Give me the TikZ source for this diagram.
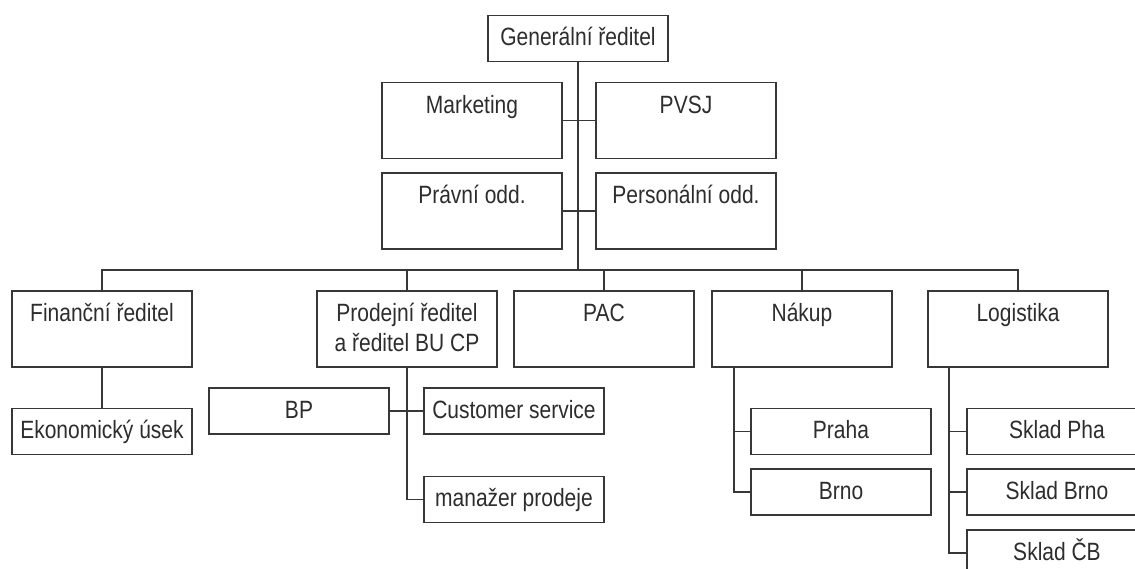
\documentclass[tikz,border=0pt]{standalone}
\usepackage{fontspec}
\setmainfont{Liberation Sans}[FakeStretch=0.84]
\definecolor{linec}{RGB}{55,55,55}
\definecolor{textc}{RGB}{45,45,45}
\newcommand\tallc[1]{\parbox[c][76pt][t]{180pt}{\centering\rule{0pt}{31pt}#1\par}}
\newcommand\shortc[1]{\parbox[c][46pt][t]{180pt}{\centering\rule{0pt}{30pt}#1\par}}
\tikzset{
  orgbox/.style={draw=linec, line width=1.2pt, inner sep=0pt, outer sep=0pt, text=textc,
    font=\fontsize{25pt}{29.5pt}\selectfont},
  conn/.style={draw=linec, line width=1.2pt}
}
\begin{document}
\begin{tikzpicture}[x=1pt,y=-1pt]
\clip (0,0) rectangle (1135,569);
\useasboundingbox (0,0) rectangle (1135,569);
% top
\node[orgbox] (gen) at (578,38.5) {\shortc{Generální ředitel}};
\node[orgbox] (mkt) at (472,120.5) {\tallc{Marketing}};
\node[orgbox] (pvsj) at (686,120.5) {\tallc{PVSJ}};
\node[orgbox] (prav) at (472,211) {\tallc{Právní odd.}};
\node[orgbox] (pers) at (686,211) {\tallc{Personální odd.}};
% second level
\node[orgbox] (fin) at (102,329) {\tallc{Finanční ředitel}};
\node[orgbox] (prod) at (407,329) {\tallc{Prodejní ředitel\\a ředitel BU CP}};
\node[orgbox] (pac) at (604,329) {\tallc{PAC}};
\node[orgbox] (nak) at (802,329) {\tallc{Nákup}};
\node[orgbox] (log) at (1018,329) {\tallc{Logistika}};
% third level
\node[orgbox] (eko) at (102,431.5) {\shortc{Ekonomický úsek}};
\node[orgbox] (bp) at (299,411) {\shortc{BP}};
\node[orgbox] (cs) at (514,411) {\shortc{Customer service}};
\node[orgbox] (man) at (514,499.5) {\shortc{manažer prodeje}};
\node[orgbox] (praha) at (841,431.5) {\shortc{Praha}};
\node[orgbox] (brno) at (841,492) {\shortc{Brno}};
\node[orgbox] (spha) at (1057,431.5) {\shortc{Sklad Pha}};
\node[orgbox] (sbrno) at (1057,492) {\shortc{Sklad Brno}};
\node[orgbox] (scb) at (1057,553) {\shortc{Sklad ČB}};
% connectors
\coordinate (bus) at (578,270);
\draw[conn] (gen.south) -- (bus);
\draw[conn] (mkt.east) -- (pvsj.west);
\draw[conn] (prav.east) -- (pers.west);
\draw[conn] (fin.north) -- (fin.north |- bus) -- (log.north |- bus) -- (log.north);
\draw[conn] (prod.north) -- (prod.north |- bus);
\draw[conn] (pac.north) -- (pac.north |- bus);
\draw[conn] (nak.north) -- (nak.north |- bus);
\draw[conn] (fin.south) -- (eko.north);
\draw[conn] (prod.south) |- (man.west);
\draw[conn] (bp.east) -- (cs.west);
\coordinate (nakv) at ([xshift=22pt]nak.south west);
\coordinate (logv) at ([xshift=21pt]log.south west);
\draw[conn] (nakv) |- (brno.west);
\draw[conn] (praha.west) -- (praha.west -| nakv);
\draw[conn] (logv) |- (scb.west);
\draw[conn] (spha.west) -- (spha.west -| logv);
\draw[conn] (sbrno.west) -- (sbrno.west -| logv);
\end{tikzpicture}
\end{document}
